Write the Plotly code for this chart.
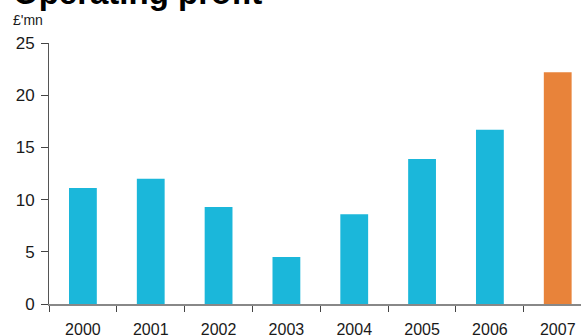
import plotly.graph_objects as go

years = ["2000", "2001", "2002", "2003", "2004", "2005", "2006", "2007"]
profit = [11.1, 12.0, 9.3, 4.5, 8.6, 13.9, 16.7, 22.2]
bar_colors = ["#1BB7DA"] * 7 + ["#E8833A"]
y_ticks = [0, 5, 10, 15, 20, 25]

W, H = 581, 335
L, R, T, B = 49, 0, 43, 31
pw = W - L - R
ph = H - T - B
cat_w = 67.83

def px_x(x):
    return (x - L) / pw

def px_y(y):
    return (H - B - y) / ph

fig = go.Figure(go.Bar(
    x=years, y=profit, marker=dict(color=bar_colors, line=dict(width=0)),
))

FONT = "Arial, Liberation Sans, sans-serif"
fig.update_layout(
    template="none",
    width=W, height=H,
    margin=dict(l=L, r=R, t=T, b=B, pad=0, autoexpand=False),
    plot_bgcolor="white", paper_bgcolor="white",
    bargap=0.59,
    showlegend=False,
    font=dict(family=FONT, size=16, color="#1a1a1a"),
    xaxis=dict(
        type="category",
        automargin=False,
        range=[-0.5, -0.5 + pw / cat_w],
        tickson="boundaries",
        ticks="outside", ticklen=6, tickwidth=1, tickcolor="#444",
        showline=True, linecolor="#888888", linewidth=2,
        showgrid=False, zeroline=False,
        ticklabelstandoff=10,
        tickfont=dict(family=FONT, size=16, color="#1a1a1a"),
    ),
    yaxis=dict(
        automargin=False,
        range=[0, 25], tickvals=y_ticks,
        ticks="outside", ticklen=7, tickwidth=1, tickcolor="#444",
        showline=True, linecolor="#555555", linewidth=1,
        showgrid=False, zeroline=False,
        ticklabelstandoff=3,
        tickfont=dict(family=FONT, size=17, color="#1a1a1a"),
    ),
    annotations=[
        dict(text="<b>Operating profit</b>", xref="paper", yref="paper",
             x=px_x(11), y=px_y(-7), xanchor="left", yanchor="middle",
             showarrow=False, font=dict(family=FONT, size=33, color="#000000")),
        dict(text="£'mn", xref="paper", yref="paper",
             x=px_x(11), y=px_y(20), xanchor="left", yanchor="middle",
             showarrow=False, font=dict(family=FONT, size=14, color="#1a1a1a")),
    ],
)

fig.write_html(
    "out.html",
    config={"displayModeBar": False},
    post_script="document.body.style.margin='0';document.body.style.overflow='hidden';",
)
